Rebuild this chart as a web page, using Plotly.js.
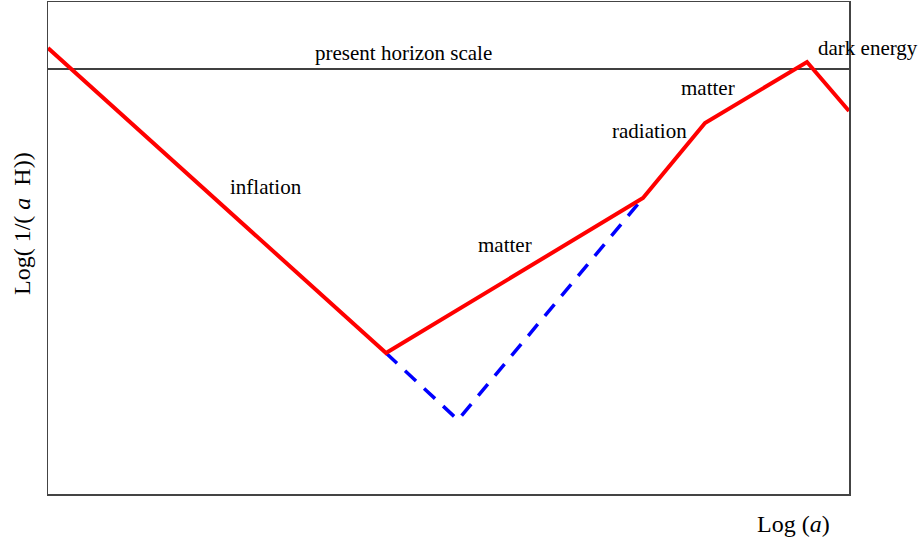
<!DOCTYPE html>
<html>
<head>
<meta charset="utf-8">
<script src="https://cdn.plot.ly/plotly-3.0.1.min.js"></script>
<style>
  html, body { margin: 0; padding: 0; background: #fff; }
  #chart { width: 920px; height: 543px; }
</style>
</head>
<body>
<div id="chart"></div>
<script>
// Log(a) positions and Log(1/(aH)) values (arbitrary units)
const actualLogA   = [0, 338, 595, 657, 759, 801];
const actualHubble = [446, 141, 296, 371, 432, 383];
const altLogA      = [338, 410, 595];
const altHubble    = [141, 74, 296];
const horizonLogA  = [0, 801];
const horizonLevel = [425, 425];

const labelText = ["present horizon scale", "inflation", "matter", "radiation", "matter", "dark energy"];
const labelX    = [355, 218, 457, 601, 660, 820];
const labelY    = [441, 307, 249, 363, 406, 446];

const FONT = "Liberation Serif, Times New Roman, serif";
const X_MAX = 801;

const traces = [
  { x: horizonLogA, y: horizonLevel, mode: "lines", line: { color: "#000", width: 1.5 }, hoverinfo: "skip", showlegend: false },
  { x: altLogA, y: altHubble, mode: "lines", line: { color: "#0000ff", width: 3.5, dash: "15px,11px" }, showlegend: false },
  { x: actualLogA, y: actualHubble, mode: "lines", line: { color: "#ff0000", width: 4 }, showlegend: false }
];

const annotations = labelText.map((t, i) => {
  const inside = labelX[i] <= X_MAX;
  return {
    text: t, x: inside ? labelX[i] : labelX[i] / X_MAX, y: labelY[i],
    xref: inside ? "x" : "paper", yref: "y",
    showarrow: false, xanchor: "center", yanchor: "middle",
    font: { family: FONT, size: 21, color: "#000" }
  };
});

annotations.push({
  text: "Log (<i>a</i>)", xref: "paper", yref: "paper",
  x: (793 - 48) / 801, y: -(524 - 494) / 492,
  showarrow: false, xanchor: "center", yanchor: "middle",
  font: { family: FONT, size: 24, color: "#000" }
});
annotations.push({
  text: "Log(\u00A01/(\u00A0<i>a</i>\u00A0\u00A0H))", xref: "paper", yref: "paper",
  x: -(48 - 22) / 801, y: (494 - 224) / 492, textangle: -90,
  showarrow: false, xanchor: "center", yanchor: "middle",
  font: { family: FONT, size: 24, color: "#000" }
});

const layout = {
  width: 920, height: 543,
  margin: { l: 48, r: 71, t: 2, b: 49 },
  paper_bgcolor: "#fff", plot_bgcolor: "#fff",
  xaxis: { range: [0, X_MAX], showgrid: false, zeroline: false, showticklabels: false, ticks: "",
           showline: true, mirror: true, linecolor: "#444", linewidth: 1.5 },
  yaxis: { range: [0, 492], showgrid: false, zeroline: false, showticklabels: false, ticks: "",
           showline: true, mirror: true, linecolor: "#444", linewidth: 1.5 },
  annotations: annotations,
  showlegend: false
};

Plotly.newPlot("chart", traces, layout, { staticPlot: true });
</script>
</body>
</html>
